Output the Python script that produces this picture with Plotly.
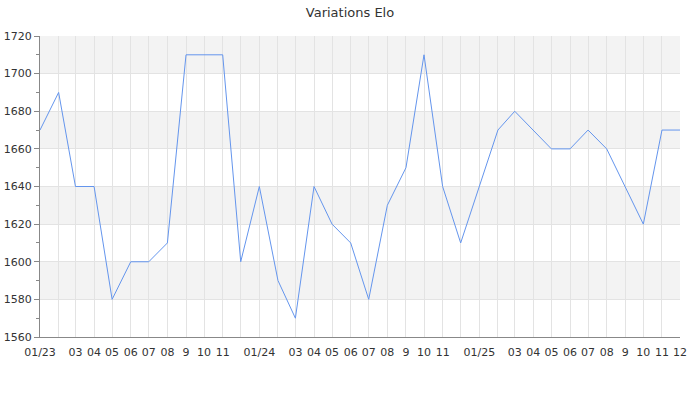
import plotly.graph_objects as go

months = [f"{y}-{m:02d}-01" for y in (2023, 2024, 2025) for m in range(1, 13)]
elo = [1670, 1690, 1640, 1640, 1580, 1600, 1600, 1610, 1710, 1710, 1710, 1600,
       1640, 1590, 1570, 1640, 1620, 1610, 1580, 1630, 1650, 1710, 1640, 1610,
       1640, 1670, 1680, 1670, 1660, 1660, 1670, 1660, 1640, 1620, 1670, 1670]
tick_labels = ["01/23", "", "03", "04", "05", "06", "07", "08", "9", "10", "11", "",
               "01/24", "", "03", "04", "05", "06", "07", "08", "9", "10", "11", "",
               "01/25", "", "03", "04", "05", "06", "07", "08", "9", "10", "11", "12"]
y_ticks = list(range(1560, 1721, 20))

fig = go.Figure()
fig.add_trace(go.Scatter(x=months, y=elo, mode="lines",
                         line=dict(color="#6495ED", width=1), hoverinfo="x+y"))

shapes = []
for lo in y_ticks[:-1]:
    if (lo // 20) % 2 == 1:  # 1580,1620,1660,1700 bands grey
        shapes.append(dict(type="rect", xref="paper", yref="y", x0=0, x1=1,
                           y0=lo, y1=lo + 20, fillcolor="#f3f3f3",
                           line=dict(width=0), layer="below"))

fig.update_layout(
    width=700, height=400,
    margin=dict(l=40, r=20, t=36, b=63),
    paper_bgcolor="white", plot_bgcolor="white",
    font=dict(family="DejaVu Sans", size=11, color="#333"),
    title=dict(text="Variations Elo", x=0.5, xanchor="center", y=0.98, yanchor="top",
               font=dict(size=13, color="#333")),
    showlegend=False,
    shapes=shapes,
    xaxis=dict(
        range=[months[0], months[-1]],
        tickmode="array", tickvals=months, ticktext=tick_labels, tickangle=0,
        showgrid=True, gridcolor="#e3e3e3", gridwidth=1,
        showline=True, linecolor="#888", linewidth=1,
        ticks="", ticklabelstandoff=5,
        zeroline=False, fixedrange=True, automargin=False,
    ),
    yaxis=dict(
        range=[1560, 1720], tickmode="array", tickvals=y_ticks,
        showgrid=True, gridcolor="#e3e3e3", gridwidth=1,
        showline=True, linecolor="#888", linewidth=1,
        ticks="outside", ticklen=5, tickcolor="#888",
        minor=dict(ticks="outside", dtick=10, ticklen=3, tickcolor="#888", showgrid=False),
        zeroline=False, fixedrange=True, automargin=False,
    ),
)

fig.write_html("out.html", config={"displayModeBar": False},
               post_script="document.body.style.margin='0';")
